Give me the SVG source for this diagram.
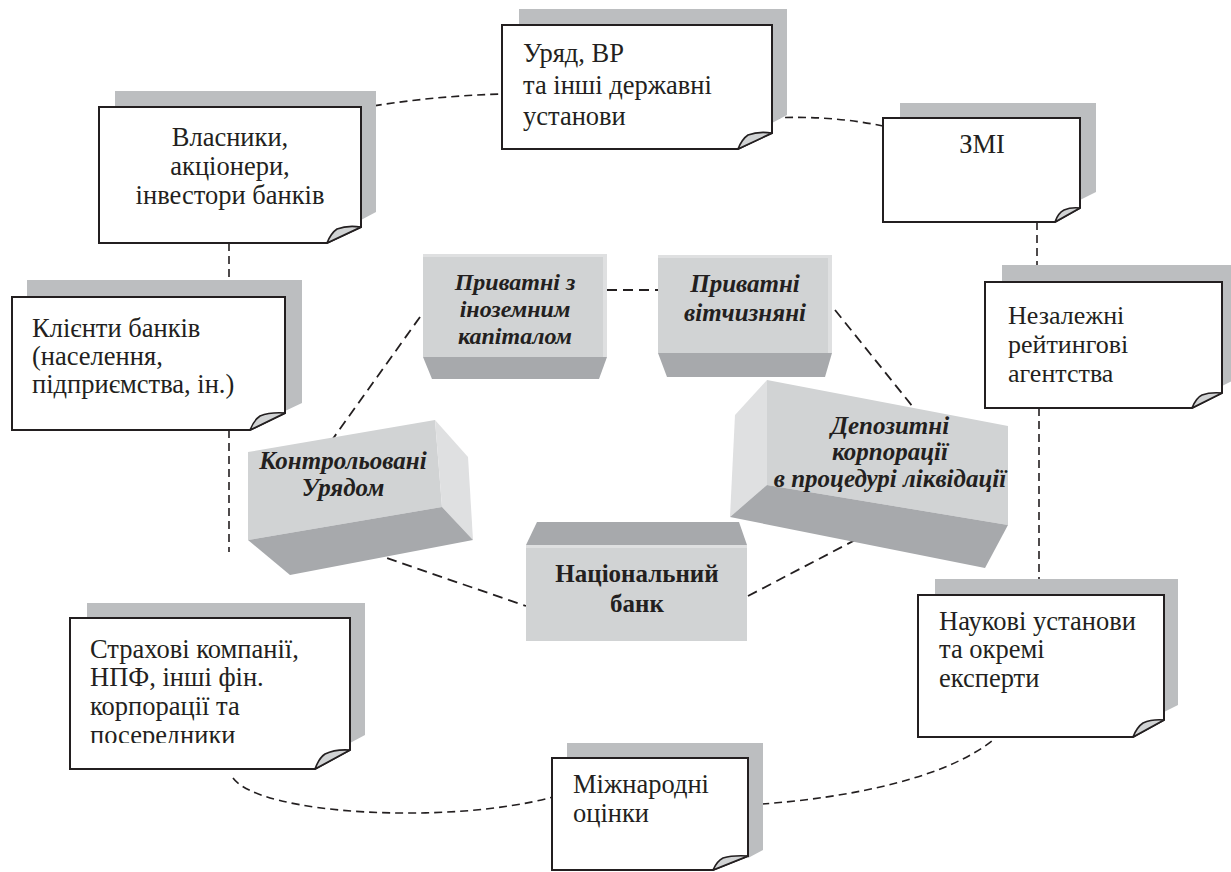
<svg xmlns="http://www.w3.org/2000/svg" width="1231" height="872" viewBox="0 0 1231 872">
<style>
.sh{fill:#bcbec0}
.bx{fill:#fff;stroke:#231f20;stroke-width:2;stroke-linejoin:miter}
.cu{fill:#d1d3d4;stroke:#231f20;stroke-width:1.6;stroke-linejoin:round}
.t{font-family:"Liberation Serif","Times New Roman",serif;font-size:26.5px;fill:#231f20}
.c{text-anchor:middle}
.bt{font-family:"Liberation Serif","Times New Roman",serif;font-size:25px;font-weight:bold;font-style:italic;fill:#231f20;text-anchor:middle}
.bn{font-family:"Liberation Serif","Times New Roman",serif;font-size:25px;font-weight:bold;fill:#231f20;text-anchor:middle}
.fr{fill:#d1d3d4}
.dk{fill:#a7a9ac}
.lt{fill:#dfe0e1}
.cn{fill:none;stroke:#231f20;stroke-width:1.6;stroke-dasharray:8 5}
.ci{fill:none;stroke:#231f20;stroke-width:1.8;stroke-dasharray:10 6}
</style>
<defs>
<clipPath id="clipStr"><rect x="70" y="618" width="280" height="125"/></clipPath>
</defs>

<g id="connectors">
<path class="cn" d="M361,108 Q430,96 502,94"/>
<path class="cn" d="M772,118 Q830,115 883,126"/>
<path class="cn" d="M1037,222 V282"/>
<path class="cn" d="M1039,408 V595"/>
<path class="cn" d="M229,243 V297"/>
<path class="cn" d="M229,430 V552"/>
<path class="cn" d="M233,778 C260,815 450,825 553,797"/>
<path class="cn" d="M748,805 C860,798 950,775 993,740"/>
<path class="ci" d="M607,290 H658"/>
<path class="ci" d="M420,317 L332,440"/>
<path class="ci" d="M835,310 L913,407"/>
<path class="ci" d="M372,553 L526,606"/>
<path class="ci" d="M748,596 L882,526"/>
</g>

<g id="n-uryad">
<path class="sh" d="M519,9 H787 V115 L772,123 V25 H519 Z"/>
<path class="bx" d="M502,25 H772 V133 L738,149 H502 Z"/>
<path class="cu" d="M738,149 Q742,139 748,135 Q758,131 772,133 Z"/>
<text class="t" x="523" y="62">Уряд, ВР</text>
<text class="t" x="523" y="94">та інші державні</text>
<text class="t" x="523" y="125">установи</text>
</g>

<g id="n-vlasnyky">
<path class="sh" d="M115,91 H376 V212 L361,220 V107 H115 Z"/>
<path class="bx" d="M99,107 H361 V227 L327,243 H99 Z"/>
<path class="cu" d="M327,243 Q331,233 337,229 Q347,225 361,227 Z"/>
<text class="t c" x="230" y="146">Власники,</text>
<text class="t c" x="230" y="175">акціонери,</text>
<text class="t c" x="230" y="204">інвестори банків</text>
</g>

<g id="n-zmi">
<path class="sh" d="M900,103 H1096 V192 L1080,200 V118 H900 Z"/>
<path class="bx" d="M883,118 H1080 V208 L1055,222 H883 Z"/>
<path class="cu" d="M1055,222 Q1058,213 1064,210 Q1071,207 1080,208 Z"/>
<text class="t c" x="982" y="153">ЗМІ</text>
</g>

<g id="n-nezalezhni">
<path class="sh" d="M1002,265 H1238 V378 L1222,386 V282 H1002 Z"/>
<path class="bx" d="M985,282 H1222 V393 L1192,408 H985 Z"/>
<path class="cu" d="M1192,408 Q1196,398 1202,395 Q1210,392 1222,393 Z"/>
<text class="t" x="1008" y="324" style="font-size:26px">Незалежні</text>
<text class="t" x="1008" y="353" style="font-size:26px">рейтингові</text>
<text class="t" x="1008" y="382" style="font-size:26px">агентства</text>
</g>

<g id="n-klienty">
<path class="sh" d="M27,280 H302 V403 L285,411 V297 H27 Z"/>
<path class="bx" d="M12,297 H285 V413 L250,430 H12 Z"/>
<path class="cu" d="M250,430 Q254,420 260,416 Q270,412 285,413 Z"/>
<text class="t" x="32" y="337">Клієнти банків</text>
<text class="t" x="32" y="365">(населення,</text>
<text class="t" x="32" y="393">підприємства, ін.)</text>
</g>

<g id="n-strakhovi">
<path class="sh" d="M87,603 H365 V735 L350,743 V618 H87 Z"/>
<path class="bx" d="M70,618 H350 V750 L315,769 H70 Z"/>
<path class="cu" d="M315,769 Q319,758 325,754 Q335,749 350,750 Z"/>
<g clip-path="url(#clipStr)">
<text class="t" x="90" y="658">Страхові компанії,</text>
<text class="t" x="90" y="686">НПФ, інші фін.</text>
<text class="t" x="90" y="715">корпорації та</text>
<text class="t" x="90" y="744">посередники</text>
</g>
</g>

<g id="n-naukovi">
<path class="sh" d="M935,579 H1178 V705 L1164,712 V595 H935 Z"/>
<path class="bx" d="M918,595 H1164 V720 L1133,737 H918 Z"/>
<path class="cu" d="M1133,737 Q1137,727 1143,723 Q1152,719 1164,720 Z"/>
<text class="t" x="939" y="630">Наукові установи</text>
<text class="t" x="939" y="658">та окремі</text>
<text class="t" x="939" y="687">експерти</text>
</g>

<g id="n-mizhnarodni">
<path class="sh" d="M567,743 H763 V850 L748,858 V758 H567 Z"/>
<path class="bx" d="M552,758 H748 V856 L713,870 H552 Z"/>
<path class="cu" d="M713,870 Q717,861 723,858 Q733,855 748,856 Z"/>
<text class="t" x="573" y="793">Міжнародні</text>
<text class="t" x="573" y="822">оцінки</text>
</g>

<g id="b-inozemni">
<rect class="fr" x="423" y="254" width="184" height="103"/>
<rect class="lt" x="423" y="254" width="184" height="3"/>
<rect class="lt" x="603" y="254" width="4" height="103"/>
<path class="dk" d="M423,357 H607 L599,379 H432 Z"/>
<text class="bt" x="515" y="290" style="font-size:24px">Приватні з</text>
<text class="bt" x="515" y="317" style="font-size:24px">іноземним</text>
<text class="bt" x="515" y="344" style="font-size:24px">капіталом</text>
</g>

<g id="b-vitchyzniani">
<rect class="fr" x="658" y="255" width="174" height="98"/>
<rect class="lt" x="658" y="255" width="174" height="3"/>
<rect class="lt" x="828" y="255" width="4" height="98"/>
<path class="dk" d="M658,353 H832 L825,377 H667 Z"/>
<text class="bt" x="745" y="292">Приватні</text>
<text class="bt" x="745" y="321">вітчизняні</text>
</g>

<g id="b-kontrolovani">
<path class="fr" d="M248,452 L435,420 L442,507 L248,540 Z"/>
<path class="lt" d="M435,420 L468,457 L473,540 L442,507 Z"/>
<path class="dk" d="M248,540 L442,507 L473,540 L290,575 Z"/>
<text class="bt" x="343" y="469">Контрольовані</text>
<text class="bt" x="343" y="496">Урядом</text>
</g>

<g id="b-depozytni">
<path class="lt" d="M767,380 L735,415 L730,517 L767,485 Z"/>
<path class="fr" d="M767,380 L1008,426 L1008,525 L767,485 Z"/>
<path class="dk" d="M767,485 L1008,525 L985,568 L730,517 Z"/>
<text class="bt" x="890" y="434">Депозитні</text>
<text class="bt" x="890" y="460">корпорації</text>
<text class="bt" x="890" y="487">в процедурі ліквідації</text>
</g>

<g id="b-natsionalnyi">
<path class="dk" d="M537,522 H739 L747,545 H526 Z"/>
<rect class="fr" x="526" y="545" width="221" height="96"/>
<rect class="lt" x="526" y="545" width="221" height="3"/>
<text class="bn" x="637" y="582">Національний</text>
<text class="bn" x="637" y="612">банк</text>
</g>
</svg>
